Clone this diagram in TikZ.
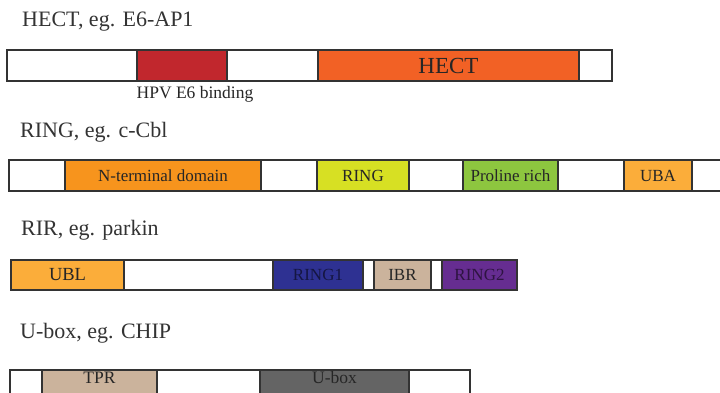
\documentclass[tikz,border=0pt]{standalone}
\usepackage{fontspec}
\setmainfont{Liberation Serif}
\begin{document}
\begin{tikzpicture}[x=1pt,y=-1pt,
  segbox/.style={draw=black!80,line width=1.1pt,inner sep=0pt,outer sep=0pt,
    anchor=north west,text=black!85,font=\fontsize{17}{17}\selectfont},
  title/.style={anchor=base west,inner sep=0pt,text=black!80,
    font=\fontsize{22}{22}\selectfont},
  caption/.style={anchor=base,inner sep=0pt,text=black!85,
    font=\fontsize{17.5}{17.5}\selectfont},
  lowlabel/.style={anchor=base,inner sep=0pt,text=black!85,
    font=\fontsize{17.5}{17.5}\selectfont}]
\definecolor{hpvred}{HTML}{C1272D}
\definecolor{hectorange}{HTML}{F26125}
\definecolor{ntorange}{HTML}{F7941D}
\definecolor{ringyellow}{HTML}{D7E023}
\definecolor{progreen}{HTML}{8DC63F}
\definecolor{ubaorange}{HTML}{FBAD3A}
\definecolor{ringblue}{HTML}{2E3192}
\definecolor{ibrtan}{HTML}{CBB39C}
\definecolor{ringpurple}{HTML}{662D91}
\definecolor{uboxgrey}{HTML}{646464}
\useasboundingbox (0,0) rectangle (720,392);
\clip (0,0) rectangle (720,392);
% one domain segment: name, left x, right x, top y, height, fill, text
\newcommand\seg[7]{%
  \pgfmathsetmacro\segw{#3-#2}%
  \node[segbox,fill=#6,minimum width=\segw pt,minimum height=#5pt] (#1) at (#2,#4) {#7};}

% HECT family
\node[title] (t1) at (22,26) {HECT, eg. E6-AP1};
\seg{h1}{7}{137}{50}{31}{white}{}
\seg{h2}{137}{227}{50}{31}{hpvred}{}
\seg{h3}{227}{318}{50}{31}{white}{}
\seg{h4}{318}{579}{50}{31}{hectorange}{\fontsize{23}{23}\selectfont HECT}
\seg{h5}{579}{612}{50}{31}{white}{}
\node[caption] (hpv) at (195,98) {HPV E6 binding};

% RING family
\node[title] (t2) at (20,137) {RING, eg. c-Cbl};
\seg{r1}{9}{65}{160}{31}{white}{}
\seg{r2}{65}{261}{160}{31}{ntorange}{N-terminal domain}
\seg{r3}{261}{317}{160}{31}{white}{}
\seg{r4}{317}{409}{160}{31}{ringyellow}{RING}
\seg{r5}{409}{463}{160}{31}{white}{}
\seg{r6}{463}{558}{160}{31}{progreen}{Proline rich}
\seg{r7}{558}{624}{160}{31}{white}{}
\seg{r8}{624}{692}{160}{31}{ubaorange}{UBA}
\seg{r9}{692}{740}{160}{31}{white}{}

% RIR family
\node[title] (t3) at (21,235) {RIR, eg. parkin};
\seg{p1}{11}{124}{260}{30}{ubaorange}{\fontsize{18.5}{18.5}\selectfont UBL}
\seg{p2}{124}{273}{260}{30}{white}{}
\seg{p3}{273}{363}{260}{30}{ringblue}{\color{ringblue!45!black}RING1}
\seg{p4}{363}{374}{260}{30}{white}{}
\seg{p5}{374}{431}{260}{30}{ibrtan}{IBR}
\seg{p6}{431}{442}{260}{30}{white}{}
\seg{p7}{442}{517}{260}{30}{ringpurple}{\color{ringpurple!45!black}RING2}

% U-box family
\node[title] (t4) at (20,338) {U-box, eg. CHIP};
\seg{u1}{10}{42}{370}{31}{white}{}
\seg{u2}{42}{157}{370}{31}{ibrtan}{}
\seg{u3}{157}{260}{370}{31}{white}{}
\seg{u4}{260}{409}{370}{31}{uboxgrey}{}
\seg{u5}{409}{470}{370}{31}{white}{}
\node[lowlabel] (tpr) at (u2.center |- 0,383) {TPR};
\node[lowlabel] (ubox) at (u4.center |- 0,383) {U-box};
\end{tikzpicture}
\end{document}
